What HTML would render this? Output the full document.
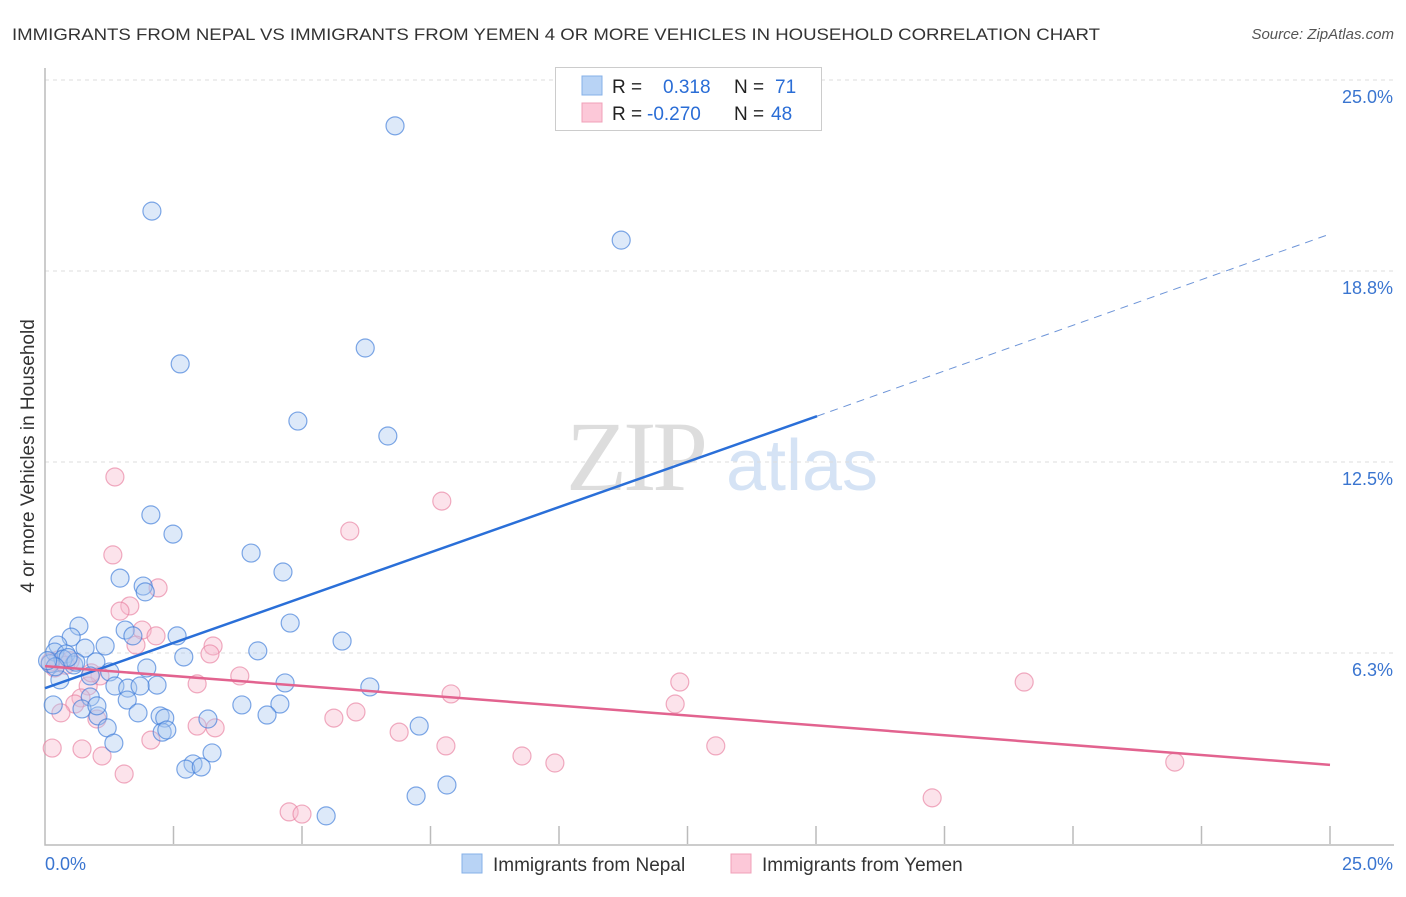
<!DOCTYPE html>
<html><head><meta charset="utf-8">
<style>
body{margin:0;background:#fff;font-family:"Liberation Sans",sans-serif;}
svg text{font-family:"Liberation Sans",sans-serif;}
</style></head>
<body>
<svg id="chart" width="1406" height="892" viewBox="0 0 1406 892" xmlns="http://www.w3.org/2000/svg">
<text x="12" y="40" font-size="17" fill="#333" textLength="1088" lengthAdjust="spacingAndGlyphs">IMMIGRANTS FROM NEPAL VS IMMIGRANTS FROM YEMEN 4 OR MORE VEHICLES IN HOUSEHOLD CORRELATION CHART</text>
<text x="1394" y="39" font-size="15" fill="#555" text-anchor="end" font-style="italic">Source: ZipAtlas.com</text>
<g>
<text x="635" y="490" font-size="100" fill="#ddd" text-anchor="middle" style="font-family:'Liberation Serif',serif" letter-spacing="-4">ZIP</text>
<text x="802" y="490" font-size="72" fill="#d5e3f5" text-anchor="middle">atlas</text>
</g>
<g id="grid"></g>
<g id="axes"></g>
<g id="pts"></g>
<g id="trends"></g>
<text x="34" y="456" font-size="19" fill="#333" text-anchor="middle" transform="rotate(-90 34 456)">4 or more Vehicles in Household</text>
<g>
<rect x="555.5" y="67.5" width="266" height="63" fill="#fff" stroke="#ccc"/>
<rect x="582" y="76" width="20" height="19" fill="#b8d3f5" stroke="#86b0e8"/>
<rect x="582" y="103" width="20" height="19" fill="#fcc8d8" stroke="#f0a0b8"/>
<text x="612" y="93" font-size="19" fill="#222">R =</text>
<text x="663" y="93" font-size="19" fill="#2a6dd6">0.318</text>
<text x="734" y="93" font-size="19" fill="#222">N =</text>
<text x="775" y="93" font-size="19" fill="#2a6dd6">71</text>
<text x="612" y="120" font-size="19" fill="#222">R =</text>
<text x="647" y="120" font-size="19" fill="#2a6dd6">-0.270</text>
<text x="734" y="120" font-size="19" fill="#222">N =</text>
<text x="771" y="120" font-size="19" fill="#2a6dd6">48</text>
</g>
<g>
<rect x="462" y="854" width="20" height="19" fill="#b8d3f5" stroke="#86b0e8"/>
<text x="493" y="871" font-size="19" fill="#333">Immigrants from Nepal</text>
<rect x="731" y="854" width="20" height="19" fill="#fcc8d8" stroke="#f0a0b8"/>
<text x="762" y="871" font-size="19" fill="#333">Immigrants from Yemen</text>
</g>
</svg>
<script>
const yTicks=[6.25,12.5,18.75,25];
const yTickLabels=["6.3%","12.5%","18.8%","25.0%"];
const nepalX=[6.81,2.08,11.21,6.23,2.63,4.92,6.67,2.06,2.49,4.01,4.63,1.46,1.91,1.95,0.66,4.77,1.56,0.51,2.57,5.78,1.71,1.17,4.14,0.25,0.78,0.19,0.41,2.70,0.99,0.56,1.98,1.26,0.88,0.29,4.67,2.18,6.32,1.36,1.61,1.85,0.88,1.60,0.16,0.72,3.83,4.57,1.81,1.03,2.24,2.33,3.17,4.32,1.21,2.28,2.37,7.28,1.34,3.25,2.88,2.74,3.04,7.22,7.82,5.47,0.10,0.35,0.60,1.01,0.45,0.20,0.05];
const nepalY=[23.50,20.71,19.76,16.23,15.71,13.84,13.35,10.77,10.14,9.52,8.90,8.70,8.44,8.25,7.13,7.23,7.00,6.77,6.81,6.64,6.81,6.48,6.32,6.51,6.41,6.28,6.22,6.12,5.96,5.86,5.76,5.63,5.50,5.37,5.27,5.20,5.14,5.17,5.10,5.17,4.81,4.71,4.55,4.42,4.55,4.58,4.29,4.19,4.19,4.12,4.09,4.22,3.80,3.66,3.73,3.86,3.30,2.98,2.62,2.45,2.52,1.57,1.93,0.92,5.90,6.05,5.95,4.52,6.10,5.80,6.00];
const yemenX=[1.36,7.72,5.93,1.32,2.20,1.65,1.46,1.89,2.16,1.77,3.27,3.21,0.25,0.49,0.19,3.79,1.07,2.96,12.35,19.05,0.84,7.90,0.70,12.26,0.58,0.31,6.05,5.62,1.01,2.96,3.31,6.89,2.06,7.80,13.05,0.14,0.72,1.11,9.28,9.92,21.98,1.54,17.26,4.75,5.00,0.40,0.90,0.10];
const yemenY=[12.01,11.22,10.24,9.46,8.38,7.79,7.62,7.00,6.81,6.51,6.48,6.22,6.02,6.00,5.76,5.50,5.50,5.24,5.30,5.30,5.17,4.91,4.78,4.58,4.58,4.29,4.32,4.12,4.09,3.86,3.80,3.66,3.40,3.21,3.21,3.14,3.11,2.88,2.88,2.65,2.68,2.29,1.51,1.05,0.98,5.85,5.60,5.95];
const nepalTrend=[[0,5.1],[15.02,14.0],[24.95,19.93]];
const yemenTrend=[[0,5.82],[25,2.59]];

const NS="http://www.w3.org/2000/svg";
const X0=45,X1=1330,Y0=844,Y1=80;
const sx=v=>X0+v/25*(X1-X0);
const sy=v=>Y0-v/25*(Y0-Y1);
function mk(tag,attrs,parent){const e=document.createElementNS(NS,tag);for(const k in attrs)e.setAttribute(k,attrs[k]);parent.appendChild(e);return e;}
const grid=document.getElementById('grid'),axes=document.getElementById('axes'),pts=document.getElementById('pts'),tr=document.getElementById('trends');
yTicks.forEach((t,i)=>{
  const l=mk('line',{x1:X0,x2:1394,y1:sy(t),y2:sy(t),stroke:'#ddd','stroke-dasharray':'4,4'},grid);
  
  
  const tx=mk('text',{x:1393,y:sy(t)+23,'font-size':18,fill:'#3a75d0','text-anchor':'end'},grid);
  tx.textContent=yTickLabels[i];
  
  
});
const ax=mk('path',{d:`M${X0},68V${Y0+1}H1394`,stroke:'#bbb',fill:'none','stroke-width':1.5},axes);


for(let i=1;i<=10;i++){
  const t=mk('line',{x1:sx(i*2.5),x2:sx(i*2.5),y1:Y0-18,y2:Y0,stroke:'#bbb','stroke-width':1.5},axes);
  
  
}
const xl0=mk('text',{x:45,y:870,'font-size':18,fill:'#3a75d0'},axes);xl0.textContent='0.0%';


const xl1=mk('text',{x:1393,y:870,'font-size':18,fill:'#3a75d0','text-anchor':'end'},axes);xl1.textContent='25.0%';


function dots(xs,ys,fill,stroke,name){
  xs.forEach((x,i)=>{
    const c=mk('circle',{cx:sx(x),cy:sy(ys[i]),r:9,fill:fill,'fill-opacity':0.4,stroke:stroke,'stroke-opacity':0.65,'stroke-width':1.2},pts);
    
    
  });
}
dots(yemenX,yemenY,'#f8b8cc','#e8809f','yemen-point');
dots(nepalX,nepalY,'#a9c8f0','#3a7ad8','nepal-point');
const b1=mk('line',{x1:sx(nepalTrend[0][0]),y1:sy(nepalTrend[0][1]),x2:sx(nepalTrend[1][0]),y2:sy(nepalTrend[1][1]),stroke:'#2a6fd8','stroke-width':2.5},tr);


const b2=mk('line',{x1:sx(nepalTrend[1][0]),y1:sy(nepalTrend[1][1]),x2:sx(nepalTrend[2][0]),y2:sy(nepalTrend[2][1]),stroke:'#6e95d8','stroke-width':1,'stroke-dasharray':'8,6'},tr);


const y1=mk('line',{x1:sx(yemenTrend[0][0]),y1:sy(yemenTrend[0][1]),x2:sx(yemenTrend[1][0]),y2:sy(yemenTrend[1][1]),stroke:'#e2638f','stroke-width':2.5},tr);


</script>
</body></html>
